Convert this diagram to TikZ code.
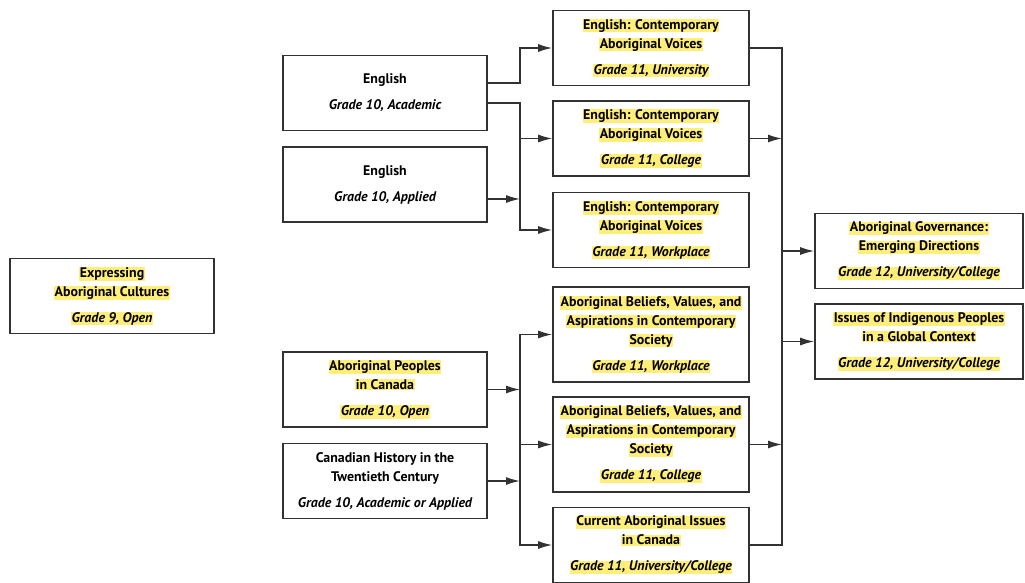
\documentclass[tikz,border=0pt]{standalone}
\usepackage{fontspec}
\setmainfont[ItalicFeatures={FakeStretch=1.04}]{PT Sans}
\usepackage{xcolor}
\usepackage{tikz}
\usetikzlibrary{arrows.meta}

\definecolor{hlyellow}{RGB}{255,238,120}
\definecolor{boxgray}{RGB}{50,50,50}
\setlength{\fboxsep}{0.5pt}
\newcommand{\hl}[1]{\colorbox{hlyellow}{#1}}

\tikzset{
    course/.style={draw=boxgray, line width=1.6pt, align=center, minimum height=75pt,
        inner sep=1pt, font=\fontsize{13.9}{19}\selectfont\bfseries},
    grade10/.style={course, minimum width=204pt},
    grade11/.style={course, minimum width=196pt},
    grade12/.style={course, minimum width=208pt},
    link/.style={draw=boxgray, line width=1.4pt},
    arr/.style={link, -{Latex[length=14pt,width=8pt]}}
}

\begin{document}
\begin{tikzpicture}[x=1pt, y=-1pt]
    \useasboundingbox (0,0) rectangle (1025,583);

    % grade 9
    \node[grade10] (expr) at (112,296) {\hl{Expressing}\\ \hl{Aboriginal Cultures}\\[7pt] \hl{\itshape Grade 9, Open}};

    % grade 10
    \node[grade10] (engA) at (385,93) {English\\[7pt] \itshape Grade 10, Academic};
    \node[grade10] (engP) at (385,184.5) {English\\[7pt] \itshape Grade 10, Applied};
    \node[grade10] (abPeo) at (385,389.5) {\hl{Aboriginal Peoples}\\ \hl{in Canada}\\[7pt] \hl{\itshape Grade 10, Open}};
    \node[grade10] (canHist) at (385,481) {Canadian History in the\\ Twentieth Century\\[7pt] \itshape Grade 10, Academic or Applied};

    % grade 11
    \node[grade11] (engU) at (651,48) {\hl{English: Contemporary}\\ \hl{Aboriginal Voices}\\[7pt] \hl{\itshape Grade 11, University}};
    \node[grade11] (engC) at (651,138.5) {\hl{English: Contemporary}\\ \hl{Aboriginal Voices}\\[7pt] \hl{\itshape Grade 11, College}};
    \node[grade11] (engW) at (651,230) {\hl{English: Contemporary}\\ \hl{Aboriginal Voices}\\[7pt] \hl{\itshape Grade 11, Workplace}};
    \node[grade11, minimum height=95pt] (belW) at (651,334.5) {\hl{Aboriginal Beliefs, Values, and}\\ \hl{Aspirations in Contemporary}\\ \hl{Society}\\[7pt] \hl{\itshape Grade 11, Workplace}};
    \node[grade11, minimum height=95pt] (belC) at (651,444.5) {\hl{Aboriginal Beliefs, Values, and}\\ \hl{Aspirations in Contemporary}\\ \hl{Society}\\[7pt] \hl{\itshape Grade 11, College}};
    \node[grade11] (curI) at (651,545) {\hl{Current Aboriginal Issues}\\ \hl{in Canada}\\[7pt] \hl{\itshape Grade 11, University/College}};

    % grade 12
    \node[grade12] (gov) at (919,251) {\hl{Aboriginal Governance:}\\ \hl{Emerging Directions}\\[7pt] \hl{\itshape Grade 12, University/College}};
    \node[grade12] (indig) at (919,341.5) {\hl{Issues of Indigenous Peoples}\\ \hl{in a Global Context}\\[7pt] \hl{\itshape Grade 12, University/College}};

    \coordinate (busL) at (520,0);
    \coordinate (busR) at (782,0);

    % english branch
    \draw[arr] ([yshift=10pt]engA.east) -| (busL |- engU) -- (engU.west);
    \draw[arr] ([yshift=-10pt]engA.east) -| (busL |- engW) -- (engW.west);
    \draw[arr] (busL |- engC) -- (engC.west);
    \draw[arr] ([yshift=-14.5pt]engP.east) -- ([yshift=-14.5pt]busL |- engP);

    % aboriginal studies branch
    \draw[link, {Latex[length=14pt,width=8pt]}-{Latex[length=14pt,width=8pt]}] (belW.west) -- (busL |- belW) |- (curI.west);
    \draw[arr] (busL |- belC) -- (belC.west);
    \draw[arr] (abPeo.east) -- (busL |- abPeo);
    \draw[arr] (canHist.east) -- (busL |- canHist);

    % towards grade 12
    \draw[link] (engU.east) -| (busR |- curI) -- (curI.east);
    \draw[arr] (engC.east) -- (busR |- engC);
    \draw[arr] (belC.east) -- (busR |- belC);
    \draw[arr] (busR |- gov) -- (gov.west);
    \draw[arr] (busR |- indig) -- (indig.west);
\end{tikzpicture}
\end{document}
